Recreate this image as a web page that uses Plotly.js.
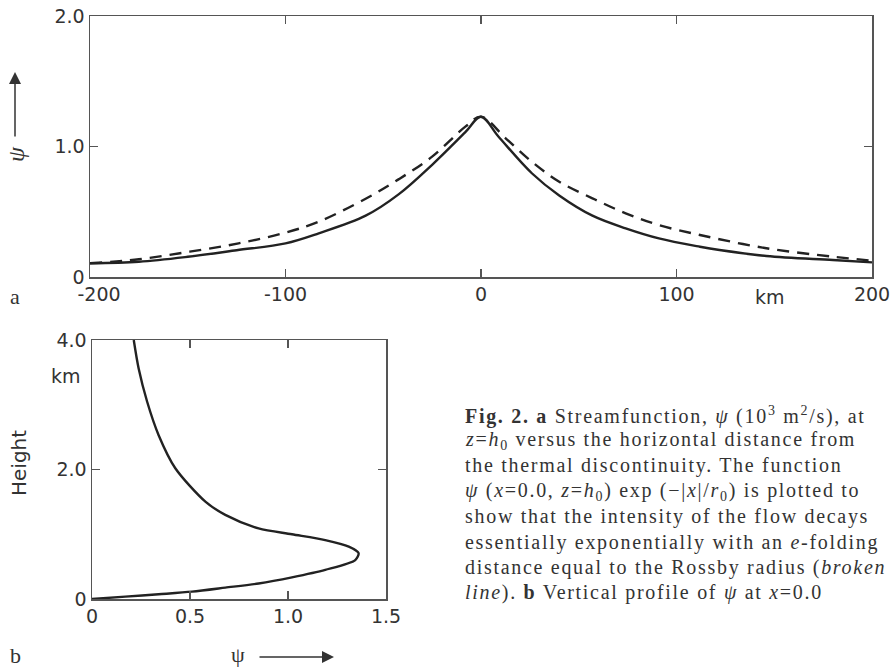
<!DOCTYPE html>
<html>
<head>
<meta charset="utf-8">
<script src="https://cdn.plot.ly/plotly-3.0.1.min.js"></script>
<style>html,body{margin:0;padding:0;background:#fff;}#chart{width:893px;height:668px;}</style>
</head>
<body>
<div id="chart"></div>
<script>
// ---- Panel a: streamfunction at z = h0 versus horizontal distance (km) ----
const xSolid = [-200, -175, -150, -125, -100, -83, -59, -42, -25, -8, 0, 9, 26, 40, 57, 74, 91, 112, 122, 146, 180, 200];
const ySolid = [0.105, 0.117, 0.155, 0.205, 0.258, 0.335, 0.47, 0.635, 0.86, 1.11, 1.228, 1.075, 0.795, 0.625, 0.47, 0.373, 0.296, 0.232, 0.207, 0.161, 0.13, 0.112];
const xDashed = [-200, -175, -149, -124, -100, -83, -59, -42, -25, -8, 0, 12.6, 26, 40, 57, 74, 91, 112, 146, 180, 200];
const yDashed = [0.105, 0.136, 0.194, 0.258, 0.34, 0.424, 0.6, 0.75, 0.922, 1.152, 1.228, 1.063, 0.883, 0.73, 0.603, 0.488, 0.398, 0.322, 0.22, 0.156, 0.125];

// ---- Panel b: vertical profile of psi at x = 0.0 ----
const psiB    = [0, 0.17, 0.34, 0.51, 0.68, 0.85, 1.02, 1.19, 1.343, 1.36, 1.31, 1.19, 1.02, 0.85, 0.68, 0.58, 0.425, 0.34, 0.281, 0.238, 0.213];
const heightB = [0, 0.036, 0.073, 0.113, 0.175, 0.24, 0.335, 0.45, 0.60, 0.71, 0.81, 0.91, 1.0, 1.09, 1.30, 1.50, 2.02, 2.53, 3.05, 3.56, 4.0];

// ---- Tick labels ----
const aXTicks = [-200, -100, 0, 100, 200];
const aXLabels = ['\u00a0\u00a0\u00a0-200', '-100', '0', '100', '200'];
const aYTicks = [0, 1, 2];
const aYLabels = ['0', '1.0', '2.0'];
const bXTicks = [0, 0.5, 1, 1.5];
const bXLabels = ['0', '0.5', '1.0', '1.5'];
const bYTicks = [0, 2, 4];
const bYLabels = ['0', '2.0', '4.0'];

const captionLines = [
  '<b>Fig. 2. a</b> Streamfunction, <i>ψ</i> (10<sup>3</sup> m<sup>2</sup>/s), at',
  '<i>z</i>=<i>h</i><sub>0</sub> versus the horizontal distance from',
  'the thermal discontinuity. The function',
  '<i>ψ</i> (<i>x</i>=0.0, <i>z</i>=<i>h</i><sub>0</sub>) exp (−|<i>x</i>|/<i>r</i><sub>0</sub>) is plotted to',
  'show that the intensity of the flow decays',
  'essentially exponentially with an <i>e</i>-folding',
  'distance equal to the Rossby radius (<i>broken</i>',
  '<i>line</i>). <b>b</b> Vertical profile of <i>ψ</i> at <i>x</i>=0.0'
];

const W = 893, H = 668;
const px = v => v / W;
const py = v => 1 - v / H;
const ink = '#222';
const axisCol = '#555';
const sans = 'DejaVu Sans';
const serif = 'Liberation Serif';

const traces = [
  {x: xSolid, y: ySolid, xaxis: 'x', yaxis: 'y', mode: 'lines', line: {color: ink, width: 2.4, shape: 'spline', smoothing: 1}, hoverinfo: 'skip'},
  {x: xDashed, y: yDashed, xaxis: 'x', yaxis: 'y', mode: 'lines', line: {color: ink, width: 2.4, dash: '12px,8px', shape: 'spline', smoothing: 1}, hoverinfo: 'skip'},
  {x: psiB, y: heightB, xaxis: 'x2', yaxis: 'y2', mode: 'lines', line: {color: ink, width: 2.4, shape: 'spline', smoothing: 0.8}, hoverinfo: 'skip'}
];

function axisBase(extra) {
  return Object.assign({
    showline: true, linecolor: axisCol, linewidth: 1.5, mirror: 'ticks',
    ticks: 'inside', ticklen: 8, tickwidth: 1.5, tickcolor: axisCol,
    showgrid: false, zeroline: false, fixedrange: true,
    tickfont: {family: sans, size: 19, color: '#333'}, tickmode: 'array'
  }, extra);
}

const annotations = [];
captionLines.forEach((t, i) => {
  annotations.push({
    xref: 'paper', yref: 'paper', x: px(463), y: py(415 + i * 25.4),
    xanchor: 'left', yanchor: 'middle', showarrow: false, align: 'left',
    text: t, font: {family: serif, size: 20, color: '#333'}
  });
});
// panel labels
annotations.push({xref: 'paper', yref: 'paper', x: px(15), y: py(297), text: 'a', showarrow: false,
  xanchor: 'center', yanchor: 'middle', font: {family: serif, size: 22, color: '#333'}});
annotations.push({xref: 'paper', yref: 'paper', x: px(15), y: py(655), text: 'b', showarrow: false,
  xanchor: 'center', yanchor: 'middle', font: {family: serif, size: 22, color: '#333'}});
// km labels
annotations.push({xref: 'paper', yref: 'paper', x: px(770), y: py(297), text: 'km', showarrow: false,
  xanchor: 'center', yanchor: 'middle', font: {family: sans, size: 19, color: '#333'}});
annotations.push({xref: 'paper', yref: 'paper', x: px(66), y: py(376), text: 'km', showarrow: false,
  xanchor: 'center', yanchor: 'middle', font: {family: sans, size: 19, color: '#333'}});
// Height
annotations.push({xref: 'paper', yref: 'paper', x: px(19), y: py(463), text: 'Height', showarrow: false,
  textangle: -90, xanchor: 'center', yanchor: 'middle', font: {family: sans, size: 20, color: '#333'}});
// psi labels
annotations.push({xref: 'paper', yref: 'paper', x: px(16), y: py(154), text: '<i>ψ</i>', showarrow: false,
  textangle: -90, xanchor: 'center', yanchor: 'middle', font: {family: serif, size: 24, color: '#333'}});
annotations.push({xref: 'paper', yref: 'paper', x: px(238), y: py(654), text: 'ψ', showarrow: false,
  xanchor: 'center', yanchor: 'middle', font: {family: serif, size: 22, color: '#333'}});
// arrows
annotations.push({xref: 'paper', yref: 'paper', x: px(15), y: py(72), ax: 0, ay: 66, text: '',
  showarrow: true, arrowhead: 2, arrowsize: 1.6, arrowwidth: 1.5, arrowcolor: '#333'});
annotations.push({xref: 'paper', yref: 'paper', x: px(334), y: py(657), ax: -76, ay: 0, text: '',
  showarrow: true, arrowhead: 2, arrowsize: 1.6, arrowwidth: 1.5, arrowcolor: '#333'});

const layout = {
  width: W, height: H,
  margin: {l: 0, r: 0, t: 0, b: 0},
  paper_bgcolor: '#fff', plot_bgcolor: '#fff',
  showlegend: false,
  xaxis: axisBase({domain: [px(90), px(872)], range: [-200, 200], anchor: 'y', tickvals: aXTicks, ticktext: aXLabels}),
  yaxis: axisBase({domain: [py(277), py(16)], range: [0, 2], anchor: 'x', tickvals: aYTicks, ticktext: aYLabels}),
  xaxis2: axisBase({domain: [px(92), px(386)], range: [0, 1.5], anchor: 'y2', tickvals: bXTicks, ticktext: bXLabels}),
  yaxis2: axisBase({domain: [py(599), py(340)], range: [0, 4], anchor: 'x2', tickvals: bYTicks, ticktext: bYLabels}),
  annotations: annotations
};

Plotly.newPlot('chart', traces, layout, {staticPlot: true, displayModeBar: false}).then(() => {
  // the scanned caption is set with wide letter spacing
  for (let i = 0; i < captionLines.length; i++) {
    const g = document.querySelector('#chart .annotation[data-index="' + i + '"] text');
    if (g) g.style.letterSpacing = '1.7px';
  }
});
</script>
</body>
</html>
